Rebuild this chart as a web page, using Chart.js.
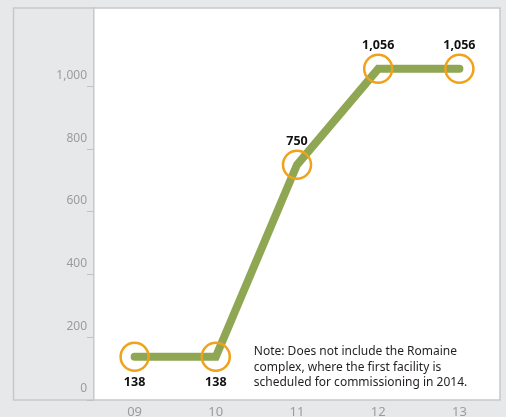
<!DOCTYPE html>
<html>
<head>
<meta charset="utf-8">
<script src="https://cdn.jsdelivr.net/npm/chart.js@4"></script>
<style>
  html, body { margin: 0; padding: 0; background: #e7e8e9; }
  #wrap { width: 506px; height: 417px; position: relative; }
</style>
</head>
<body>
<div id="wrap"><canvas id="chart" width="506" height="417"></canvas></div>
<script>
// Capacity by year
const years = ['09', '10', '11', '12', '13'];
const capacity = [138, 138, 750, 1056, 1056];
const labelAbove = [false, false, true, true, true];
const yTicks = [0, 200, 400, 600, 800, 1000];
const noteLines = [
  'Note: Does not include the Romaine',
  'complex, where the first facility is',
  'scheduled for commissioning in 2014.'
];

const FONT = '"Noto Sans", "Open Sans", sans-serif';

// white plot panel + grey frame round the whole box
const framePlugin = {
  id: 'frame',
  beforeDraw(chart) {
    const ctx = chart.ctx;
    const a = chart.chartArea;
    ctx.save();
    ctx.fillStyle = '#ffffff';
    ctx.fillRect(a.left, a.top, a.right - a.left, a.bottom - a.top);
    ctx.strokeStyle = '#c6c8ca';
    ctx.lineWidth = 1.5;
    ctx.strokeRect(13.5, a.top, a.right - 13.5, a.bottom - a.top);
    ctx.restore();
  }
};

// value labels and the note
const labelPlugin = {
  id: 'valueLabels',
  afterDatasetsDraw(chart) {
    const ctx = chart.ctx;
    const meta = chart.getDatasetMeta(0);
    ctx.save();
    ctx.fillStyle = '#111111';
    ctx.font = 'bold 12.5px ' + FONT;
    ctx.textAlign = 'center';
    ctx.textBaseline = 'middle';
    meta.data.forEach((pt, i) => {
      const dy = labelAbove[i] ? -23 : 26;
      ctx.fillText(capacity[i].toLocaleString('en-US'), pt.x, pt.y + dy);
    });
    // note, bottom right of the plot
    ctx.fillStyle = '#231f20';
    ctx.font = '12px ' + FONT;
    ctx.textAlign = 'left';
    const x = chart.scales.x.getPixelForValue(1) + 38;
    noteLines.forEach((t, i) => ctx.fillText(t, x, 352 + i * 15.5));
    ctx.restore();
  }
};

new Chart(document.getElementById('chart'), {
  type: 'line',
  data: {
    labels: years,
    datasets: [{
      data: capacity,
      borderColor: '#8fa753',
      borderWidth: 8,
      borderCapStyle: 'round',
      borderJoinStyle: 'miter',
      tension: 0,
      pointRadius: 14,
      pointBorderWidth: 2.5,
      pointBorderColor: '#f0a21b',
      pointBackgroundColor: 'rgba(0,0,0,0)',
      clip: false
    }]
  },
  options: {
    responsive: false,
    animation: false,
    layout: { autoPadding: false, padding: { top: 8, right: 6, left: 0, bottom: 0 } },
    plugins: { legend: { display: false }, tooltip: { enabled: false } },
    scales: {
      x: {
        offset: true,
        grid: { display: false, drawTicks: false },
        border: { display: false },
        ticks: { color: '#9b9c9e', font: { family: FONT, size: 13 }, padding: 4 },
        afterFit(s) { s.height = 17; }
      },
      y: {
        min: 0,
        max: 1250,
        afterBuildTicks(s) { s.ticks = yTicks.map(v => ({ value: v })); },
        grid: { drawOnChartArea: false, tickLength: 7, color: '#bfc1c3', lineWidth: 1 },
        border: { display: true, color: '#c6c8ca', width: 1.5 },
        ticks: {
          color: '#9b9c9e',
          font: { family: FONT, size: 12 },
          padding: 0,
          labelOffset: -11,
          callback: v => v.toLocaleString('en-US')
        },
        afterFit(s) { s.width = 94; }
      }
    }
  },
  plugins: [framePlugin, labelPlugin]
});
</script>
</body>
</html>
